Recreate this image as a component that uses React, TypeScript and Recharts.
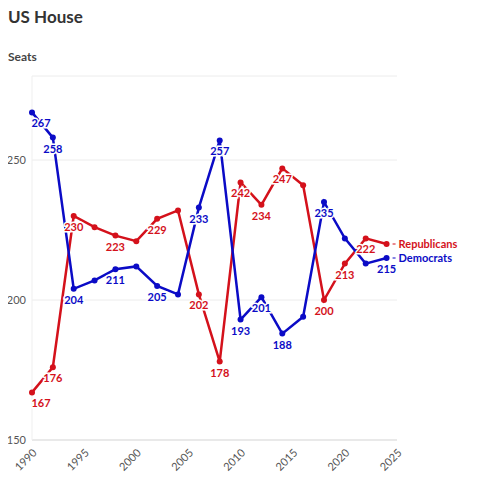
import { CartesianGrid, LabelList, Line, LineChart, XAxis, YAxis } from "recharts"

const years = [1990, 1992, 1994, 1996, 1998, 2000, 2002, 2004, 2006, 2008, 2010, 2012, 2014, 2016, 2018, 2020, 2022, 2024]
const democrats = [267, 258, 204, 207, 211, 212, 205, 202, 233, 257, 193, 201, 188, 194, 235, 222, 213, 215]
const republicans = [167, 176, 230, 226, 223, 221, 229, 232, 202, 178, 242, 234, 247, 241, 200, 213, 222, 220]
// which points carry a value label
const demLabeled = [1, 1, 1, 0, 1, 0, 1, 0, 1, 1, 1, 1, 1, 0, 1, 0, 0, 1]
const repLabeled = [1, 1, 1, 0, 1, 0, 1, 0, 1, 1, 1, 1, 1, 0, 1, 1, 1, 0]
const yTicks = [150, 200, 250]
const xTicks = [1990, 1995, 2000, 2005, 2010, 2015, 2020, 2025]

const RED = "#d4111b"
const BLUE = "#0b0bc6"
const FONT = "Lato, 'Noto Sans', sans-serif"

const data = years.map((year, i) => ({
  year,
  Democrats: democrats[i],
  Republicans: republicans[i],
}))

function valueLabel(flags: number[], color: string) {
  return (props: any) => {
    const { x, y, value, index } = props
    if (!flags[index]) return null
    const cx = index === 0 ? x + 9 : x
    return (
      <text
        x={cx}
        y={y + 15}
        textAnchor="middle"
        fill={color}
        stroke="#fff"
        strokeWidth={3}
        paintOrder="stroke"
        fontSize={11}
        fontWeight={700}
        fontFamily={FONT}
      >
        {value}
      </text>
    )
  }
}

function seriesName(name: string, color: string) {
  return (props: any) => {
    const { x, y, index } = props
    if (index !== years.length - 1) return null
    return (
      <g>
        <line x1={x + 6} x2={x + 9} y1={y} y2={y} stroke={color} strokeWidth={1} />
        <text x={x + 12} y={y + 4} fill={color} fontSize={11} fontWeight={700} fontFamily={FONT}>
          {name}
        </text>
      </g>
    )
  }
}

function YTick(props: any) {
  const { x, y, payload } = props
  return (
    <text x={x + 4} y={y + 4} textAnchor="end" fill="#555" fontSize={11} fontFamily={FONT}>
      {payload.value}
    </text>
  )
}

export default function App() {
  return (
    <div style={{ width: 477, height: 482, margin: -8, position: "relative", background: "#fff", fontFamily: FONT }}>
      <div style={{ position: "absolute", left: 8, top: 6, fontSize: 17, fontWeight: 700, color: "#333" }}>US House</div>
      <div style={{ position: "absolute", left: 8, top: 49, fontSize: 12, fontWeight: 700, color: "#444" }}>Seats</div>
      <div style={{ position: "absolute", left: 0, top: 0 }}>
        <LineChart width={477} height={482} data={data} margin={{ top: 76, right: 80, left: 0, bottom: 0 }}>
          <CartesianGrid vertical={false} stroke="#ececec" />
          <XAxis
            dataKey="year"
            type="number"
            domain={[1990, 2025]}
            ticks={xTicks}
            interval={0}
            angle={-45}
            textAnchor="end"
            height={42}
            tickLine={false}
            tickMargin={2}
            axisLine={{ stroke: "#dddddd" }}
            tick={{ fill: "#555", fontSize: 11, fontFamily: FONT }}
          />
          <YAxis
            type="number"
            domain={[150, 280]}
            ticks={yTicks}
            width={32}
            tickLine={false}
            tickSize={0}
            tickMargin={10}
            axisLine={{ stroke: "#efefef" }}
            tick={<YTick />}
          />
          <Line
            dataKey="Republicans"
            stroke={RED}
            strokeWidth={2.5}
            dot={{ r: 3, fill: RED, stroke: RED, strokeWidth: 0 }}
            isAnimationActive={false}
          >
            <LabelList dataKey="Republicans" content={valueLabel(repLabeled, RED)} />
            <LabelList dataKey="Republicans" content={seriesName("Republicans", RED)} />
          </Line>
          <Line
            dataKey="Democrats"
            stroke={BLUE}
            strokeWidth={2.5}
            dot={{ r: 3, fill: BLUE, stroke: BLUE, strokeWidth: 0 }}
            isAnimationActive={false}
          >
            <LabelList dataKey="Democrats" content={valueLabel(demLabeled, BLUE)} />
            <LabelList dataKey="Democrats" content={seriesName("Democrats", BLUE)} />
          </Line>
        </LineChart>
      </div>
    </div>
  )
}
